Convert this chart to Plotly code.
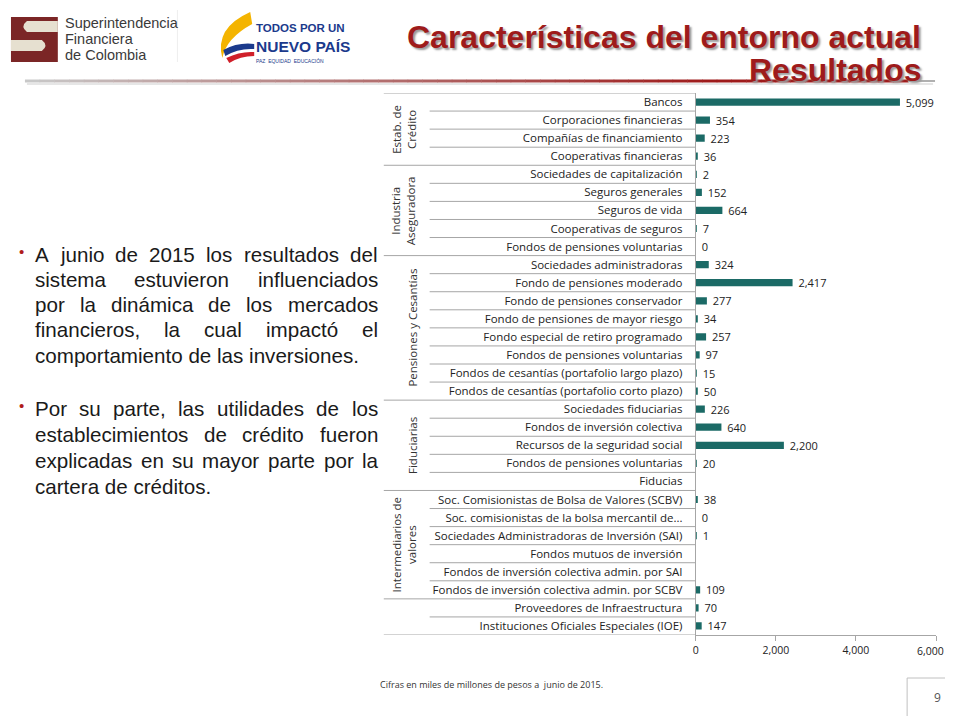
import plotly.graph_objects as go

# ---------------- data ----------------
categories = [
    "Bancos", "Corporaciones financieras", "Compañías de financiamiento", "Cooperativas financieras",
    "Sociedades de capitalización", "Seguros generales", "Seguros de vida", "Cooperativas de seguros",
    "Fondos de pensiones voluntarias",
    "Sociedades administradoras", "Fondo de pensiones moderado", "Fondo de pensiones conservador",
    "Fondo de pensiones de mayor riesgo", "Fondo especial de retiro programado",
    "Fondos de pensiones voluntarias", "Fondos de cesantías (portafolio largo plazo)",
    "Fondos de cesantías (portafolio corto plazo)",
    "Sociedades fiduciarias", "Fondos de inversión colectiva", "Recursos de la seguridad social",
    "Fondos de pensiones voluntarias", "Fiducias",
    "Soc. Comisionistas de Bolsa de Valores (SCBV)", "Soc. comisionistas de la bolsa mercantil de...",
    "Sociedades Administradoras de Inversión (SAI)", "Fondos mutuos de inversión",
    "Fondos de inversión colectiva admin. por SAI", "Fondos de inversión colectiva admin. por SCBV",
    "Proveedores de Infraestructura", "Instituciones Oficiales Especiales (IOE)",
]
values = [
    5099, 354, 223, 36,
    2, 152, 664, 7, 0,
    324, 2417, 277, 34, 257, 97, 15, 50,
    226, 640, 2200, 20, None,
    38, 0, 1, None, None, 109,
    70, 147,
]
group_names = ["Estab. de<br>Crédito", "Industria<br>Aseguradora", "Pensiones y Cesantías",
               "Fiduciarias", "Intermediarios de<br>valores", ""]
group_sizes = [4, 5, 8, 5, 6, 2]
x_ticks = [0, 2000, 4000, 6000]
x_tick_labels = ["0", "2,000", "4,000", "6,000"]

title_line1 = "Características del entorno actual"
title_line2 = "Resultados"
paragraphs = [
    ["A junio de 2015 los resultados del",
     "sistema estuvieron influenciados",
     "por la dinámica de los mercados",
     "financieros, la cual impactó el",
     "comportamiento de las inversiones."],
    ["Por su parte, las utilidades de los",
     "establecimientos de crédito fueron",
     "explicadas en su mayor parte por la",
     "cartera de créditos."],
]
footnote = "Cifras en miles de millones de pesos a  junio de 2015."
page_number = "9"

# ---------------- styling ----------------
W, H = 945, 720
BAR = "#1b6a66"
GRID = "#a6a6a6"
RED = "#9e1b1b"
LABEL_FONT = "Open Sans, Lato, sans-serif"
ARIAL = "Liberation Sans, Arial, sans-serif"


def px(x):
    return x / W


def py(y):
    return 1 - y / H


n = len(categories)
pos = list(range(n))
labels = ["\u00a0" + f"{v:,}" if v is not None else "" for v in values]

fig = go.Figure(go.Bar(
    x=values, y=pos, orientation="h", width=0.4,
    marker=dict(color=BAR, line=dict(width=0)),
    text=labels, textposition="outside", constraintext="none", cliponaxis=False,
    textfont=dict(size=11, color="#222", family=LABEL_FONT),
    hoverinfo="skip",
))

shapes = []
annotations = []

# table separator lines in the category area
ends = set()
c = 0
for s in group_sizes:
    c += s
    ends.add(c)
for b in range(n + 1):
    x0 = 382 if (b == 0 or b in ends) else 428
    shapes.append(dict(type="line", xref="paper", yref="y", x0=px(x0), x1=px(695),
                       y0=b - 0.5, y1=b - 0.5, line=dict(color=GRID, width=1)))

# group labels
start = 0
for name, size in zip(group_names, group_sizes):
    if name:
        nlines = name.count("<br>") + 1
        annotations.append(dict(
            text=name, xref="paper", yref="y", x=px(411 - 9 * (nlines - 1)),
            y=start + (size - 1) / 2, textangle=-90, showarrow=False,
            font=dict(size=11.5, color="#333", family=LABEL_FONT), align="center"))
    start += size

# last x tick label kept inside the page edge
annotations.append(dict(text=x_tick_labels[-1], xref="x", yref="paper", x=x_ticks[-1], y=py(651),
                        xanchor="center", yanchor="middle", xshift=-6, showarrow=False,
                        font=dict(size=10.5, color="#222", family=LABEL_FONT)))

# ---- header ----
# Superintendencia logo (approximation)
shapes += [
    dict(type="rect", xref="paper", yref="paper", x0=px(8), x1=px(55), y0=py(62), y1=py(17),
         fillcolor="#7b2626", line=dict(width=0)),
    dict(type="path", xref="paper", yref="paper",
         path=f"M {px(24)},{py(21)} L {px(55)},{py(21)} L {px(55)},{py(32)} L {px(24)},{py(32)} "
              f"Q {px(17)},{py(26.5)} {px(24)},{py(21)} Z",
         fillcolor="#e6e0d0", line=dict(width=0)),
    dict(type="path", xref="paper", yref="paper",
         path=f"M {px(8)},{py(40)} L {px(39)},{py(40)} Q {px(46)},{py(45.5)} {px(39)},{py(51)} "
              f"L {px(8)},{py(51)} Z",
         fillcolor="#e6e0d0", line=dict(width=0)),
    dict(type="line", xref="paper", yref="paper", x0=px(175), x1=px(175), y0=py(62), y1=py(10),
         line=dict(color="#eeeeee", width=1)),
]
for i, t in enumerate(["Superintendencia", "Financiera", "de Colombia"]):
    annotations.append(dict(text=t, xref="paper", yref="paper", x=px(61), y=py(23 + 16 * i),
                            xanchor="left", yanchor="middle", showarrow=False, borderpad=0,
                            font=dict(size=14.5, color="#3a3a3a", family=ARIAL)))

# Colombia logo swoosh (approximation)
shapes += [
    dict(type="path", xref="paper", yref="paper",
         path=f"M {px(248)},{py(12)} Q {px(212)},{py(28)} {px(220)},{py(58)} "
              f"Q {px(224)},{py(38)} {px(250)},{py(24)} Z",
         fillcolor="#f4b400", line=dict(width=0)),
    dict(type="path", xref="paper", yref="paper",
         path=f"M {px(221)},{py(50)} Q {px(236)},{py(42)} {px(252)},{py(44)} L {px(252)},{py(49)} "
              f"Q {px(236)},{py(48)} {px(223)},{py(56)} Z",
         fillcolor="#1b3a8c", line=dict(width=0)),
    dict(type="path", xref="paper", yref="paper",
         path=f"M {px(224)},{py(58)} Q {px(238)},{py(51)} {px(252)},{py(52)} L {px(252)},{py(56)} "
              f"Q {px(238)},{py(56)} {px(227)},{py(63)} Z",
         fillcolor="#d0202a", line=dict(width=0)),
]
annotations += [
    dict(text="<b>TODOS POR UN</b>", xref="paper", yref="paper", x=px(253), y=py(28),
         xanchor="left", yanchor="middle", showarrow=False, borderpad=0,
         font=dict(size=11.5, color="#1b3a8c", family=ARIAL)),
    dict(text="<b>NUEVO PAÍS</b>", xref="paper", yref="paper", x=px(253), y=py(46),
         xanchor="left", yanchor="middle", showarrow=False, borderpad=0,
         font=dict(size=15.5, color="#1b3a8c", family=ARIAL)),
    dict(text="PAZ  EQUIDAD  EDUCACIÓN", xref="paper", yref="paper", x=px(253), y=py(61),
         xanchor="left", yanchor="middle", showarrow=False, borderpad=0,
         font=dict(size=5, color="#1b3a8c", family=ARIAL)),
]

# title
for t, yc in [(title_line1, 36.5), (title_line2, 70)]:
    annotations.append(dict(text=f"<b>{t}</b>", xref="paper", yref="paper", x=px(922), y=py(yc),
                            xanchor="right", yanchor="middle", showarrow=False, borderpad=0,
                            font=dict(size=32, color=RED, family=ARIAL,
                                      shadow="2px 2px 2px #9a9a9a")))


# header rule: gray -> red gradient line
def mix(c1, c2, f):
    a = [int(c1[i:i + 2], 16) for i in (1, 3, 5)]
    b = [int(c2[i:i + 2], 16) for i in (1, 3, 5)]
    return "#" + "".join(f"{round(a[k] + (b[k] - a[k]) * f):02x}" for k in range(3))


segs = 60
x_start, x_red, x_end = 22, 700, 908
for k in range(segs):
    xa = x_start + (x_end - x_start) * k / segs
    xb = x_start + (x_end - x_start) * (k + 1) / segs
    f = min(1.0, max(0.0, (xa - x_start) / (x_red - x_start)))
    shapes.append(dict(type="line", xref="paper", yref="paper", x0=px(xa), x1=px(xb + 0.5),
                       y0=py(81), y1=py(81), line=dict(color=mix("#c8c8c8", RED, f), width=3)))
shapes.append(dict(type="line", xref="paper", yref="paper", x0=px(908), x1=px(935),
                   y0=py(81), y1=py(81), line=dict(color="#b0b0b0", width=2)))
shapes.append(dict(type="line", xref="paper", yref="paper", x0=px(24), x1=px(933),
                   y0=py(84), y1=py(84), line=dict(color="#e6e6e6", width=2)))

# ---- left text (justified) ----
AW = {" ": 278, ",": 278, ".": 278, "A": 667, "P": 667}
for ch, w in zip("abcdefghijklmnopqrstuvwxyz",
                 [556, 556, 500, 556, 556, 278, 556, 556, 222, 222, 500, 222, 833, 556, 556, 556,
                  556, 333, 500, 278, 556, 500, 722, 500, 500, 500]):
    AW[ch] = w
AW.update({"á": 556, "é": 556, "í": 278, "ó": 556, "ú": 556, "ñ": 556})
for d in "0123456789":
    AW[d] = 556

FS = 20.6
LEFT, RIGHT = 31, 375


def tw(s):
    return sum(AW.get(ch, 556) for ch in s) * FS / 1000


para_y = [(254, 25.25), (408.6, 25.8)]
for (y0, dy), lines in zip(para_y, paragraphs):
    annotations.append(dict(text="•", xref="paper", yref="paper", x=px(19), y=py(y0 - 3),
                            xanchor="center", yanchor="middle", showarrow=False,
                            font=dict(size=15, color="#b01c1c", family=ARIAL)))
    for li, line in enumerate(lines):
        yc = y0 + dy * li
        words = line.split(" ")
        last = li == len(lines) - 1
        if last:
            annotations.append(dict(text=line, xref="paper", yref="paper", x=px(LEFT), y=py(yc),
                                    xanchor="left", yanchor="middle", showarrow=False, borderpad=0,
                                    font=dict(size=FS, color="#1a1a1a", family=ARIAL)))
            continue
        total = sum(tw(w) for w in words)
        gap = (RIGHT - LEFT - total) / (len(words) - 1)
        xcur = LEFT
        for w in words:
            annotations.append(dict(text=w, xref="paper", yref="paper", x=px(xcur), y=py(yc),
                                    xanchor="left", yanchor="middle", showarrow=False, borderpad=0,
                                    font=dict(size=FS, color="#1a1a1a", family=ARIAL)))
            xcur += tw(w) + gap

# ---- footer ----
annotations.append(dict(text=footnote, xref="paper", yref="paper", x=px(377), y=py(684),
                        xanchor="left", yanchor="middle", showarrow=False, borderpad=0,
                        font=dict(size=9, color="#333", family=LABEL_FONT)))
annotations.append(dict(text=page_number, xref="paper", yref="paper", x=px(937), y=py(697),
                        xanchor="center", yanchor="middle", showarrow=False,
                        font=dict(size=12, color="#555", family=LABEL_FONT)))
shapes += [
    dict(type="line", xref="paper", yref="paper", x0=px(907), x1=px(907), y0=py(716), y1=py(678),
         line=dict(color="#c0c0c0", width=1)),
    dict(type="line", xref="paper", yref="paper", x0=px(907), x1=px(945), y0=py(678), y1=py(678),
         line=dict(color="#c0c0c0", width=1)),
]

fig.update_layout(
    width=W, height=H, autosize=False, margin=dict(l=0, r=0, t=0, b=0),
    paper_bgcolor="white", plot_bgcolor="white", showlegend=False,
    shapes=shapes, annotations=annotations,
    xaxis=dict(domain=[px(695), px(936)], range=[0, 6000], tickvals=x_ticks,
               ticktext=x_tick_labels[:-1] + [""],
               ticks="outside", ticklen=5, tickcolor=GRID, showline=True, linecolor=GRID,
               showgrid=False, zeroline=False, fixedrange=True,
               tickfont=dict(size=10.5, color="#222", family=LABEL_FONT)),
    yaxis=dict(domain=[py(635), py(93)], range=[n - 0.5, -0.5], tickvals=pos, ticktext=categories,
               ticks="", showline=True, linecolor=GRID, showgrid=False, zeroline=False,
               ticklabelstandoff=10, fixedrange=True,
               tickfont=dict(size=11.5, color="#222", family=LABEL_FONT)),
)

post = (
    "document.documentElement.style.overflow='hidden';"
    "document.body.style.overflow='hidden';"
    "document.body.style.margin='0px';"
)
fig.write_html("out.html", post_script=post, config=dict(responsive=False, displayModeBar=False))
